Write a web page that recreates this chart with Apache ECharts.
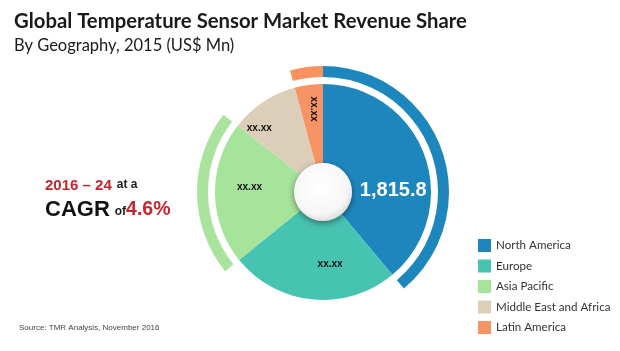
<!DOCTYPE html>
<html>
<head>
<meta charset="utf-8">
<script src="https://cdn.jsdelivr.net/npm/echarts@6/dist/echarts.min.js"></script>
<style>
  html, body { margin: 0; padding: 0; background: #fff; }
  #chart { width: 620px; height: 351px; }
</style>
</head>
<body>
<div id="chart"></div>
<script>
// regions and their 2015 revenue (US$ Mn); only North America is published
var regions = ['North America', 'Europe', 'Asia Pacific', 'Middle East and Africa', 'Latin America'];
var revenue = [1815.8, 1180, 995, 480, 197];
var sliceLabels = ['1,815.8', 'xx.xx', 'xx.xx', 'xx.xx', 'xx.xx'];
// which regions get the outer highlight arc
var outerArc = [true, false, true, false, true];

var colors = ['#1d87bd', '#47c3b1', '#a6e39b', '#dccfb9', '#f79466'];
var arcColors = ['#1d87bd', '#47c3b1', '#a9e39d', '#dccfb9', '#f9925f'];
var center = [323, 192];

var myChart = echarts.init(document.getElementById('chart'));

var option = {
  backgroundColor: '#fff',
  animation: false,
  color: colors,
  title: [
    {
      text: 'Global Temperature Sensor Market Revenue Share',
      left: 9, top: 6,
      textStyle: { fontFamily: 'Lato', fontWeight: 'bold', fontSize: 20.3, color: '#1a1a1a' }
    },
    {
      text: 'By Geography, 2015 (US$ Mn)',
      left: 9, top: 32,
      textStyle: { fontFamily: 'Lato', fontWeight: 'normal', fontSize: 16.5, color: '#1a1a1a' }
    },
    {
      text: '{r|2016 – 24} {s|at a}\n{b|CAGR} {t|of}{p|4.6%}',
      left: 40, top: 170,
      textStyle: {
        rich: {
          r: { fontFamily: 'Liberation Sans', fontWeight: 'bold', fontSize: 15, color: '#c1272d', lineHeight: 22 },
          s: { fontFamily: 'Liberation Sans', fontSize: 12, color: '#1a1a1a', lineHeight: 22, padding: [0, 0, 2, 0] },
          b: { fontFamily: 'Liberation Sans', fontSize: 22, color: '#111', lineHeight: 26 },
          t: { fontFamily: 'Liberation Sans', fontSize: 12, color: '#1a1a1a', lineHeight: 26, padding: [4, 0, 0, 0] },
          p: { fontFamily: 'Liberation Sans', fontWeight: 'bold', fontSize: 19.5, color: '#c1272d', lineHeight: 26 }
        }
      }
    },
    {
      text: 'Source: TMR Analysis, November 2016',
      left: 14, top: 319,
      textStyle: { fontFamily: 'Liberation Sans', fontWeight: 'normal', fontSize: 8, color: '#444' }
    }
  ],
  legend: {
    orient: 'vertical',
    left: 473, top: 234,
    itemWidth: 13, itemHeight: 13, itemGap: 7.5,
    icon: 'rect',
    data: regions,
    textStyle: { fontFamily: 'Lato', fontSize: 11.6, color: '#333' }
  },
  series: [
    {
      // outer highlight arcs
      type: 'pie',
      center: center,
      radius: [115, 126],
      startAngle: 90,
      clockwise: true,
      silent: true,
      label: { show: false },
      labelLine: { show: false },
      legendHoverLink: false,
      data: regions.map(function (r, i) {
        return {
          name: r + ' arc',
          value: revenue[i],
          itemStyle: { color: outerArc[i] ? arcColors[i] : 'rgba(0,0,0,0)' }
        };
      })
    },
    {
      type: 'pie',
      center: center,
      radius: [29, 108],
      startAngle: 90,
      clockwise: true,
      silent: true,
      data: regions.map(function (r, i) {
        return { name: r, value: revenue[i] };
      }),
      label: {
        show: true,
        position: 'inside',
        overflow: 'none',
        formatter: function (p) { return sliceLabels[p.dataIndex]; },
        fontFamily: 'Liberation Sans',
        fontWeight: 'bold',
        fontSize: 10,
        color: '#111'
      },
      labelLayout: function (p) {
        var d = [[3, 23], [14, 1], [-2, -5], [-24, -4], [-12, 0]][p.dataIndex];
        return { dx: d[0], dy: d[1] };
      },
      labelLine: { show: false }
    },
    {
      // white centre button
      type: 'pie',
      center: center,
      radius: [0, 29],
      silent: true,
      label: { show: false },
      labelLine: { show: false },
      legendHoverLink: false,
      data: [{
        name: 'hole', value: 1,
        itemStyle: {
          color: {
            type: 'radial', x: 0.45, y: 0.4, r: 0.65,
            colorStops: [
              { offset: 0, color: '#ffffff' },
              { offset: 0.75, color: '#f6f6f6' },
              { offset: 1, color: '#d4d4d4' }
            ]
          },
          shadowBlur: 6,
          shadowOffsetY: 2,
          shadowColor: 'rgba(0,0,0,0.45)'
        }
      }]
    }
  ]
};

// the published number gets the big white label
option.series[1].data[0].label = { fontSize: 20, color: '#fff', fontFamily: 'Liberation Sans', fontWeight: 'bold', overflow: 'none' };
option.series[1].data[4].label = { rotate: -90 };

myChart.setOption(option);
</script>
</body>
</html>
